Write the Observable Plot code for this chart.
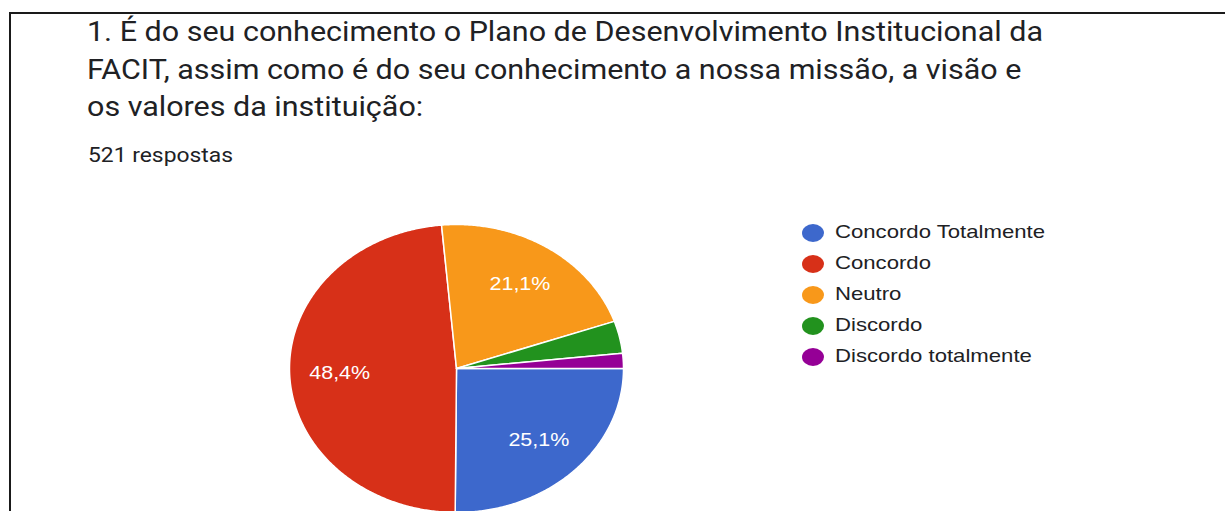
<!DOCTYPE html>
<html>
<head>
<meta charset="utf-8">
<script src="https://cdn.jsdelivr.net/npm/d3@7"></script>
<script src="https://cdn.jsdelivr.net/npm/@observablehq/plot@0.6"></script>
<style>
  html, body { margin: 0; padding: 0; background: #fff; }
  body { width: 1225px; height: 511px; overflow: hidden; position: relative; }
  .hline { position: absolute; left: 10px; right: 0; top: 12px; height: 2px; background: #1a1a1a; }
  .vline { position: absolute; left: 9px; top: 12px; bottom: 0; width: 2px; background: #1a1a1a; }
  #title { position: absolute; left: 87px; top: 14px; font-family: Roboto, "Noto Sans", sans-serif;
           font-size: 27px; line-height: 37.5px; color: #202124; transform-origin: 0 0; white-space: nowrap; }
  #sub { position: absolute; left: 88px; top: 145px; font-family: Roboto, sans-serif; font-size: 20px; line-height: 20px;
         color: #202124; transform-origin: 0 0; white-space: nowrap; }
  #chart { position: absolute; left: 0; top: 190px; }
  #legend { position: absolute; left: 802px; top: 1px; font-family: "Liberation Sans", Arial, sans-serif; font-size: 19px; color: #202124; }
  .item { position: absolute; left: 0; height: 20px; white-space: nowrap; }
  .dot { position: absolute; left: 0; width: 22px; height: 18px; border-radius: 50%; }
  .lab { position: absolute; left: 33px; transform-origin: 0 50%; }
</style>
</head>
<body>
<div class="hline"></div>
<div class="vline"></div>
<div id="title"></div>
<div id="sub"></div>
<div id="chart"></div>
<div id="legend"></div>
<script>
const titleLines = [
  "1. É do seu conhecimento o Plano de Desenvolvimento Institucional da",
  "FACIT, assim como é do seu conhecimento a nossa missão, a visão e",
  "os valores da instituição:"
];
const subtitle = "521 respostas";
const categories = ["Concordo Totalmente", "Concordo", "Neutro", "Discordo", "Discordo totalmente"];
const values = [25.1, 48.4, 21.1, 3.6, 1.7];
const colors = ["#3d68cc", "#d73018", "#f8981a", "#22921e", "#950096"];

// Title
const t = document.getElementById("title");
titleLines.forEach(l => { const d = document.createElement("div"); d.textContent = l; t.appendChild(d); });
const w0 = t.firstChild.getBoundingClientRect().width;
t.style.transform = `scaleX(${956 / w0})`;
const s = document.getElementById("sub");
s.textContent = subtitle;
s.style.transform = `scaleX(${145 / s.getBoundingClientRect().width})`;

// Pie geometry (angles clockwise from east)
const pie = d3.pie().sort(null).startAngle(0).endAngle(2 * Math.PI).value(d => d.value);
const arcs = pie(categories.map((c, i) => ({ category: c, value: values[i] })));
const pts = [];
const labels = [];
for (const a of arcs) {
  const c = a.data.category;
  pts.push({ category: c, x: 0, y: 0 });
  const n = Math.max(2, Math.ceil((a.endAngle - a.startAngle) / (Math.PI / 360)));
  for (let k = 0; k <= n; k++) {
    const th = a.startAngle + (a.endAngle - a.startAngle) * k / n;
    pts.push({ category: c, x: Math.cos(th), y: -Math.sin(th) });
  }
  pts.push({ category: c, x: 0, y: 0 });
  if (a.data.value >= 5) {
    const m = (a.startAngle + a.endAngle) / 2;
    labels.push({ x: 0.7 * Math.cos(m), y: -0.7 * Math.sin(m), text: a.data.value.toFixed(1).replace(".", ",") + "%" });
  }
}

const plot = Plot.plot({
  width: 1225,
  height: 321,
  margin: 0,
  style: { background: "transparent", overflow: "visible" },
  x: { domain: [-1, 1], range: [289, 623], axis: null },
  y: { domain: [-1, 1], range: [322, 34], axis: null },
  color: { domain: categories, range: colors },
  marks: [
    Plot.line(pts, { x: "x", y: "y", z: "category", fill: "category", stroke: "white", strokeWidth: 1.5, strokeLinejoin: "round" }),
    Plot.text(labels, { x: "x", y: "y", text: "text", fill: "white", fontSize: 19, fontFamily: "Liberation Sans, Arial, sans-serif" })
  ]
});
document.getElementById("chart").appendChild(plot);
plot.querySelectorAll("text").forEach(el => {
  const bb = el.getBBox();
  const cx = bb.x + bb.width / 2;
  el.setAttribute("transform", (el.getAttribute("transform") || "") + ` translate(${cx},0) scale(1.13,1) translate(${-cx},0)`);
});

// Legend
const leg = document.getElementById("legend");
const ys = [232, 263, 294, 325, 356];
categories.forEach((c, i) => {
  const it = document.createElement("div");
  it.className = "item";
  it.style.top = (ys[i] - 10) + "px";
  const dot = document.createElement("div");
  dot.className = "dot";
  dot.style.background = colors[i];
  dot.style.top = "1px";
  const lab = document.createElement("div");
  lab.className = "lab";
  lab.textContent = c;
  lab.style.top = "-2px";
  it.appendChild(dot); it.appendChild(lab);
  leg.appendChild(it);
});
const l0 = leg.querySelector(".lab");
const sc = 210 / l0.getBoundingClientRect().width;
leg.querySelectorAll(".lab").forEach(l => l.style.transform = `scaleX(${sc})`);
</script>
</body>
</html>
